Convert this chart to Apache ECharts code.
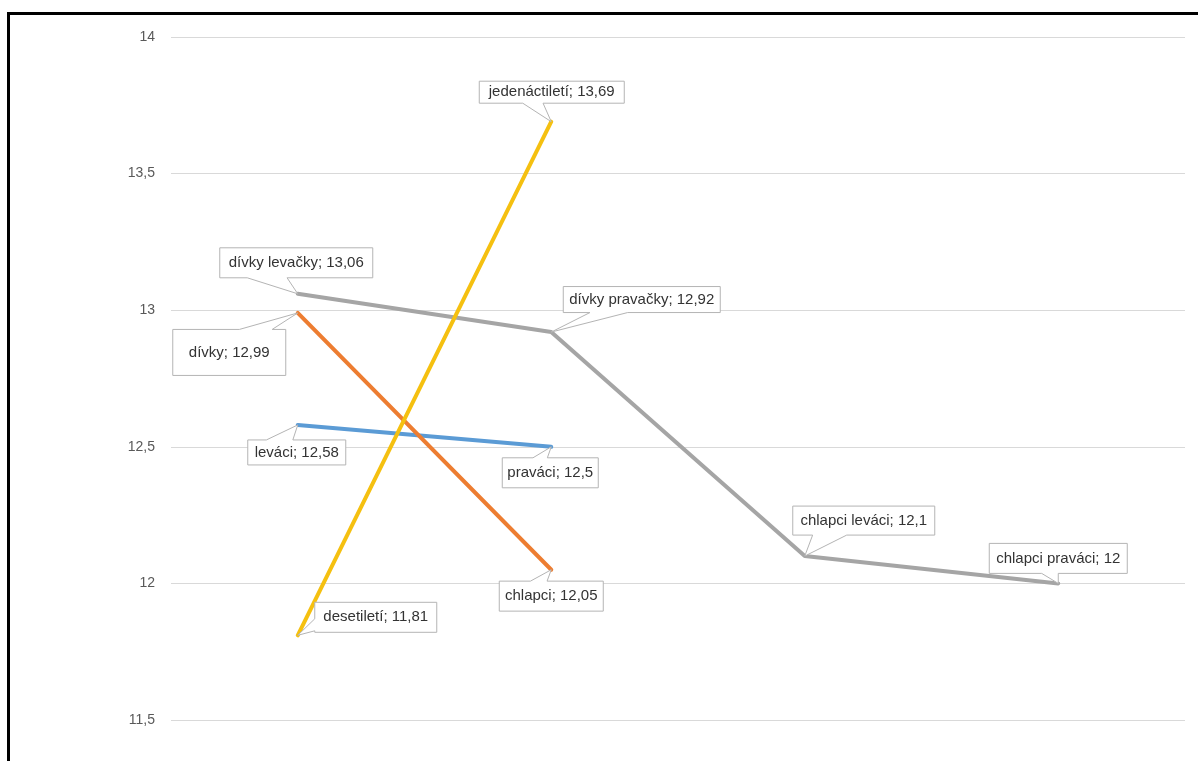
<!DOCTYPE html>
<html>
<head>
<meta charset="utf-8">
<style>
  html, body { margin: 0; padding: 0; background: #fff; }
  #chart { width: 1198px; height: 761px; }
</style>
<script src="https://cdn.jsdelivr.net/npm/echarts@6/dist/echarts.min.js"></script>
</head>
<body>
<div id="chart"></div>
<script>
// Positions along the (unlabelled) horizontal axis
const categories = ['bod 1', 'bod 2', 'bod 3', 'bod 4'];

// Y axis ticks
const yMin = 11.5;
const yMax = 14;
const yStep = 0.5;

// Series: leváci / praváci
const handNames = ['leváci', 'praváci'];
const handValues = [12.58, 12.5];

// Series: dívky / chlapci
const genderNames = ['dívky', 'chlapci'];
const genderValues = [12.99, 12.05];

// Series: dívky/chlapci × leváci/praváci
const comboNames = ['dívky levačky', 'dívky pravačky', 'chlapci leváci', 'chlapci praváci'];
const comboValues = [13.06, 12.92, 12.1, 12];

// Series: desetiletí / jedenáctiletí
const ageNames = ['desetiletí', 'jedenáctiletí'];
const ageValues = [11.81, 13.69];

const seriesDefs = [
  { names: handNames, values: handValues, color: '#5b9bd5' },
  { names: genderNames, values: genderValues, color: '#ed7d31' },
  { names: comboNames, values: comboValues, color: '#a5a5a5' },
  { names: ageNames, values: ageValues, color: '#f5c010' }
];

const fmt = v => String(v).replace('.', ',');

const chart = echarts.init(document.getElementById('chart'));

chart.setOption({
  animation: false,
  backgroundColor: '#ffffff',
  grid: { left: 171, right: 13, top: 37, bottom: 41, containLabel: false },
  xAxis: {
    type: 'category',
    data: categories,
    boundaryGap: true,
    axisLine: { show: false },
    axisTick: { show: false },
    axisLabel: { show: false },
    splitLine: { show: false }
  },
  yAxis: {
    type: 'value',
    min: yMin,
    max: yMax,
    interval: yStep,
    axisLine: { show: false },
    axisTick: { show: false },
    axisLabel: {
      color: '#595959',
      fontFamily: 'Liberation Sans',
      fontSize: 14,
      margin: 16,
      formatter: v => fmt(v)
    },
    splitLine: { lineStyle: { color: '#d9d9d9', width: 1 } }
  },
  series: seriesDefs.map(s => ({
    type: 'line',
    data: s.values,
    symbol: 'none',
    lineStyle: { color: s.color, width: 4, cap: 'round', join: 'round' },
    itemStyle: { color: s.color },
    z: 2
  }))
});

// Callout boxes: offset of box centre from the point, box size, side of the pointer
// and the pointer base as fractions along that side.
const callouts = [
  { s: 0, i: 0, dx: -1,   dy: 27.5, w: 98,  h: 25, side: 'top',    a: 0.19, b: 0.46 },
  { s: 0, i: 1, dx: -1,   dy: 26,   w: 96,  h: 30, side: 'top',    a: 0.32, b: 0.47 },
  { s: 1, i: 0, dx: -68.5,dy: 39.5, w: 113, h: 46, side: 'top',    a: 0.59, b: 0.88 },
  { s: 1, i: 1, dx: 0,    dy: 26.4, w: 104, h: 30, side: 'top',    a: 0.30, b: 0.46 },
  { s: 2, i: 0, dx: -1.5, dy: -31,  w: 153, h: 30, side: 'bottom', a: 0.18, b: 0.44 },
  { s: 2, i: 1, dx: 90.5, dy: -32.5,w: 157, h: 26, side: 'bottom', a: 0.17, b: 0.41 },
  { s: 2, i: 2, dx: 59,   dy: -35.5,w: 142, h: 29, side: 'bottom', a: 0.14, b: 0.38 },
  { s: 2, i: 3, dx: 0,    dy: -25,  w: 138, h: 30, side: 'bottom', a: 0.38, b: 0.50 },
  { s: 3, i: 0, dx: 78,   dy: -18,  w: 122, h: 30, side: 'left',   a: 0.55, b: 0.95 },
  { s: 3, i: 1, dx: 0.5,  dy: -29.5,w: 145, h: 22, side: 'bottom', a: 0.30, b: 0.44 }
];

function calloutPoints(tip, c) {
  const cx = tip[0] + c.dx, cy = tip[1] + c.dy;
  const x0 = cx - c.w / 2, x1 = cx + c.w / 2;
  const y0 = cy - c.h / 2, y1 = cy + c.h / 2;
  if (c.side === 'bottom') {
    return [[x0, y0], [x1, y0], [x1, y1], [x0 + c.b * c.w, y1], tip, [x0 + c.a * c.w, y1], [x0, y1]];
  }
  if (c.side === 'top') {
    return [[x0, y0], [x0 + c.a * c.w, y0], tip, [x0 + c.b * c.w, y0], [x1, y0], [x1, y1], [x0, y1]];
  }
  // left
  return [[x0, y0], [x1, y0], [x1, y1], [x0, y1], [x0, y0 + c.b * c.h], tip, [x0, y0 + c.a * c.h]];
}

const graphics = [];
callouts.forEach((c, k) => {
  const def = seriesDefs[c.s];
  const value = def.values[c.i];
  const tip = chart.convertToPixel({ seriesIndex: c.s }, [c.i, value]);
  const pts = calloutPoints(tip, c);
  graphics.push({
    type: 'polygon',
    z: 100 + k,
    shape: { points: pts },
    style: { fill: '#ffffff', stroke: '#b4b4b4', lineWidth: 1 }
  });
  graphics.push({
    type: 'text',
    z: 100 + k,
    x: tip[0] + c.dx,
    y: tip[1] + c.dy,
    style: {
      text: def.names[c.i] + '; ' + fmt(value),
      fill: '#333333',
      font: '15px "Liberation Sans"',
      align: 'center',
      verticalAlign: 'middle'
    }
  });
});

// Outer frame
graphics.push({
  type: 'rect',
  z: 200,
  shape: { x: 8.5, y: 13.5, width: 1200, height: 760 },
  style: { fill: 'none', stroke: '#000000', lineWidth: 3 }
});

chart.setOption({ graphic: graphics });
</script>
</body>
</html>
